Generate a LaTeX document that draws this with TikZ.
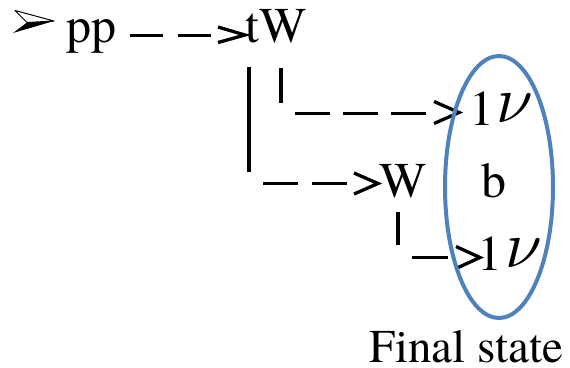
\documentclass[tikz,border=0pt]{standalone}
\usepackage{graphicx}
\usepackage{fontspec}
\setmainfont{texgyretermes-regular.otf}[ItalicFont=texgyretermes-italic.otf]
\definecolor{ellblue}{HTML}{4F81BD}
\newcommand{\bignu}{\scalebox{6.6}{$\nu$}}
\begin{document}
\begin{tikzpicture}[x=1pt,y=-1pt,
  lbl/.style={inner sep=0pt,anchor=base,font=\fontsize{50}{60}\selectfont},
  nulbl/.style={inner sep=0pt,anchor=base},
  fin/.style={inner sep=0pt,anchor=base,text depth=0pt,font=\fontsize{47}{56}\selectfont},
  dashline/.style={line width=3pt,line cap=butt},
  barline/.style={line width=3.5pt,line cap=butt},
  chev/.style={line width=3.3pt,line cap=butt,line join=miter},
  ell/.style={draw=ellblue,line width=4pt}]
\useasboundingbox (0,0) rectangle (570,367);
% bullet
\fill[black] (27,22.5) -- (54,21) -- (13,33) -- cycle;
\filldraw[fill=white,draw=black,line width=1pt,line join=round] (15,10.5) -- (54,21) -- (27,22.5) -- cycle;
% text nodes
\node[lbl] (pp) at (91.5,42) {pp};
\node[lbl] (tW) at (276,42) {tW};
\node[lbl] (l1) at (481.5,125) {1};
\node[nulbl] (nu1) at (515,122) {\bignu};
\node[lbl] (W) at (403.5,197) {W};
\node[lbl] (b) at (494,197) {b};
\node[lbl] (l2) at (490,270) {1};
\node[nulbl] (nu2) at (524,267) {\bignu};
\node[fin] (fs) at (466.5,362) {Final state};
% connector coordinates
\coordinate (a1) at (130,35);  \coordinate (a2) at (212,35);
\coordinate (b1) at (249,67);  \coordinate (b2) at (249,172);
\coordinate (c1) at (281,68);  \coordinate (c2) at (281,103);
\coordinate (d1) at (295,113); \coordinate (d2) at (427,113);
\coordinate (e1) at (263,183); \coordinate (e2) at (347,183);
\coordinate (f1) at (398,212); \coordinate (f2) at (398,245);
\coordinate (g1) at (412,257); \coordinate (g2) at (448,257);
% pp -> tW
\draw[dashline,dash pattern=on 33pt off 15pt] (a1) -- (a2);
\draw[chev] (218,27) -- (245,35) -- (218,42.5);
% tW -> l nu (upper)
\draw[barline] (b1) -- (b2);
\draw[barline] (c1) -- (c2);
\draw[dashline,dash pattern=on 35pt off 13pt] (d1) -- (d2);
\draw[chev] (434,101.5) -- (459,112.5) -- (434,123.5);
% tW -> W
\draw[dashline,dash pattern=on 35pt off 14pt] (e1) -- (e2);
\draw[chev] (354,173) -- (378,183.5) -- (354,194);
% W -> l nu (lower)
\draw[barline] (f1) -- (f2);
\draw[dashline] (g1) -- (g2);
\draw[chev] (456,246.5) -- (480,257.5) -- (456,268.5);
% final state ellipse
\draw[ell] (499,187) ellipse [x radius=54, y radius=131];
\end{tikzpicture}
\end{document}
